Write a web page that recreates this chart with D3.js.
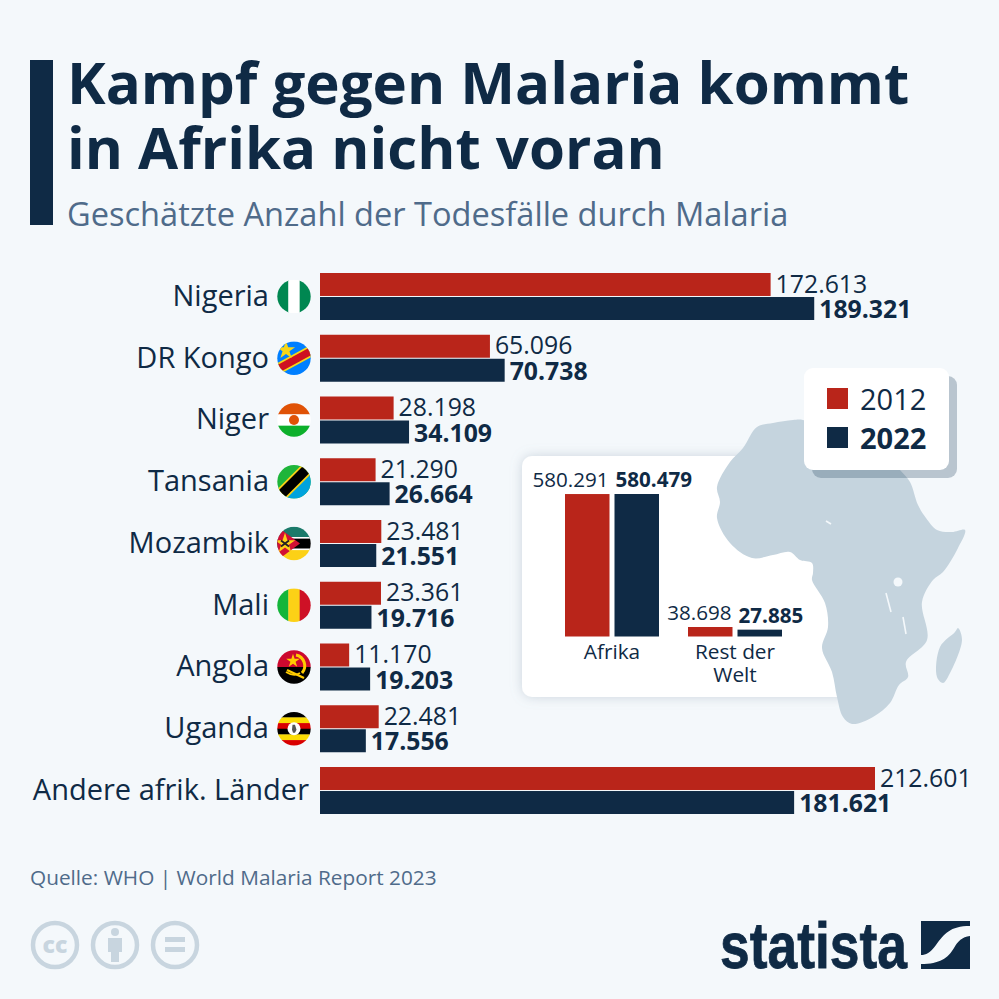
<!DOCTYPE html>
<html>
<head>
<meta charset="utf-8">
<script src="https://cdn.jsdelivr.net/npm/d3@7"></script>
<style>
html,body{margin:0;padding:0;background:#f4f8fb;}
svg{display:block;font-family:"Open Sans",sans-serif;}
</style>
</head>
<body>
<svg id="chart" width="999" height="999"></svg>
<script>
var categories = ["Nigeria","DR Kongo","Niger","Tansania","Mozambik","Mali","Angola","Uganda","Andere afrik. Länder"];
var flagKeys = ["ng","cd","ne","tz","mz","ml","ao","ug",null];
var values2012 = [172613,65096,28198,21290,23481,23361,11170,22481,212601];
var values2022 = [189321,70738,34109,26664,21551,19716,19203,17556,181621];
var years = ["2012","2022"];
var regions = ["Afrika","Rest der Welt"];
var regions2012 = [580291,38698];
var regions2022 = [580479,27885];

var titleLines = ["Kampf gegen Malaria kommt","in Afrika nicht voran"];
var subtitle = "Geschätzte Anzahl der Todesfälle durch Malaria";
var source = "Quelle: WHO | World Malaria Report 2023";

var red = "#b9251a", navy = "#0f2a45", grey = "#4f6b8a", mapCol = "#c5d4de", bg = "#f4f8fb";

var africaOutline = [[757,427],[773,423],[793,420],[803,420],[830,430],[870,440],[900,470],[910,482],[918,505],[926,518],[937,530],[952,532],[965,530],[958,548],[943,572],[933,580],[922,602],[927,640],[906,662],[908,677],[899,685],[890,703],[873,717],[852,724],[843,717],[837,697],[832,672],[822,648],[828,627],[825,603],[812,580],[813,573],[812,563],[800,560],[790,552],[773,555],[752,558],[730,543],[717,518],[720,502],[717,487],[730,462],[743,448]];
var madagascar = [[958,628],[962,640],[948,677],[943,683],[937,677],[940,647],[955,632]];
var lakeLines = [[[886,593],[891,612]],[[903,617],[906,634]],[[826,521],[831,524]]];
var lakeVictoria = [898,582];

var svg = d3.select("#chart");
var fmt = d3.formatLocale({decimal:",",thousands:".",grouping:[3]}).format(",d");

var defs = svg.append("defs");
var soft = defs.append("filter").attr("id","soft").attr("x","-10%").attr("y","-10%").attr("width","120%").attr("height","120%");
soft.append("feDropShadow").attr("dx",0).attr("dy",0).attr("stdDeviation",6).attr("flood-color","#7f93a6").attr("flood-opacity",0.35);

svg.append("rect").attr("width",999).attr("height",999).attr("fill",bg);

// titel
svg.append("rect").attr("x",30).attr("y",60).attr("width",23).attr("height",165).attr("fill",navy);
svg.selectAll("text.title").data(titleLines).enter().append("text")
	.attr("class","title").attr("x",67).attr("y",function(d,i){return 104+i*64.5;})
	.attr("font-size",58.2).attr("font-weight",700).attr("fill",navy).text(function(d){return d;});
svg.append("text").attr("x",67).attr("y",226).attr("font-size",32.6).attr("fill",grey).text(subtitle);

// einsatz panel unter der karte
svg.append("rect").attr("x",522).attr("y",456).attr("width",330).attr("height",241).attr("rx",10)
	.attr("fill","#fff").attr("filter","url(#soft)");

// karte
var mapLine = d3.line().curve(d3.curveCatmullRomClosed.alpha(0.5));
svg.append("path").attr("d",mapLine(africaOutline)).attr("fill",mapCol);
svg.append("path").attr("d",mapLine(madagascar)).attr("fill",mapCol);
svg.selectAll("path.lake").data(lakeLines).enter().append("path").attr("class","lake")
	.attr("d",d3.line()).attr("fill","none").attr("stroke",bg).attr("stroke-width",1.6);
svg.append("circle").attr("cx",lakeVictoria[0]).attr("cy",lakeVictoria[1]).attr("r",4.5).attr("fill",bg);

// haupt diagramm
var x = d3.scaleLinear().domain([0,212601]).range([320,875]);
var y = d3.scaleBand().domain(categories).range([273,814]).paddingInner(0.239);
var yInner = d3.scaleBand().domain(years).range([0,y.bandwidth()]).paddingInner(0.043);

var rows = svg.selectAll("g.row").data(categories).enter().append("g").attr("class","row")
	.attr("transform",function(d){return "translate(0,"+y(d)+")";});

rows.append("text")
	.attr("x",function(d,i){return flagKeys[i] ? 269 : 309;})
	.attr("y",y.bandwidth()/2+9.5).attr("text-anchor","end")
	.attr("font-size",29).attr("fill",navy).text(function(d){return d;});

rows.append("rect").attr("x",x(0)).attr("y",yInner("2012"))
	.attr("width",function(d,i){return x(values2012[i])-x(0);}).attr("height",yInner.bandwidth()).attr("fill",red);
rows.append("rect").attr("x",x(0)).attr("y",yInner("2022"))
	.attr("width",function(d,i){return x(values2022[i])-x(0);}).attr("height",yInner.bandwidth()).attr("fill",navy);

rows.append("text").attr("x",function(d,i){return x(values2012[i])+5;}).attr("y",yInner("2012")+19.5)
	.attr("font-size",24.8).attr("fill",navy).text(function(d,i){return fmt(values2012[i]);});
rows.append("text").attr("x",function(d,i){return x(values2022[i])+5;}).attr("y",yInner("2022")+21)
	.attr("font-size",24.8).attr("font-weight",700).attr("fill",navy).text(function(d,i){return fmt(values2022[i]);});

// flaggen
function stripesH(g,cols){
	cols.forEach(function(c,i){
		g.append("rect").attr("x",-17).attr("y",-17+i*34/cols.length).attr("width",34).attr("height",34/cols.length+0.3).attr("fill",c);
	});
}
function stripesV(g,cols){
	cols.forEach(function(c,i){
		g.append("rect").attr("x",-17+i*34/cols.length).attr("y",-17).attr("width",34/cols.length+0.3).attr("height",34).attr("fill",c);
	});
}
function star(g,cx,cy,r,col){
	g.append("path").attr("transform","translate("+cx+","+cy+")").attr("fill",col)
		.attr("d",d3.symbol().type(d3.symbolStar).size(r*r*1.6)());
}
function diag(g,w,col){
	g.append("line").attr("x1",-24).attr("y1",24).attr("x2",24).attr("y2",-24).attr("stroke",col).attr("stroke-width",w);
}
var flags = {
	ng:function(g){stripesV(g,["#008751","#ffffff","#008751"]);},
	cd:function(g){
		g.append("rect").attr("x",-17).attr("y",-17).attr("width",34).attr("height",34).attr("fill","#007fff");
		g.append("line").attr("x1",-24).attr("y1",15).attr("x2",24).attr("y2",-11).attr("stroke","#f7d618").attr("stroke-width",11);
		g.append("line").attr("x1",-24).attr("y1",15).attr("x2",24).attr("y2",-11).attr("stroke","#ce1021").attr("stroke-width",7.5);
		star(g,-8,-8,8,"#f7d618");
	},
	ne:function(g){
		stripesH(g,["#e05206","#ffffff","#0db02b"]);
		g.append("circle").attr("r",5).attr("fill","#e05206");
	},
	tz:function(g){
		g.append("rect").attr("x",-17).attr("y",-17).attr("width",34).attr("height",34).attr("fill","#1eb53a");
		g.append("path").attr("d","M17,-17L17,17L-17,17Z").attr("fill","#00a3dd");
		diag(g,13,"#fcd116");
		diag(g,9.5,"#000000");
	},
	mz:function(g){
		stripesH(g,["#1b7a6a","#000000","#fcd116"]);
		g.append("rect").attr("x",-17).attr("y",-6.5).attr("width",34).attr("height",1.6).attr("fill","#fff");
		g.append("rect").attr("x",-17).attr("y",5).attr("width",34).attr("height",1.6).attr("fill","#fff");
		g.append("path").attr("d","M-17,-17L6,0L-17,17Z").attr("fill","#d21034");
		star(g,-9,0,9,"#fcd116");
		g.append("path").attr("d","M-13,3L-5,-3M-13,-3L-5,3").attr("stroke","#222").attr("stroke-width",1.8);
	},
	ml:function(g){stripesV(g,["#14b53a","#fcd116","#ce1126"]);},
	ao:function(g){
		stripesH(g,["#cc092f","#000000"]);
		star(g,-1,-6,6,"#ffcb00");
		g.append("path").attr("d","M2,-12A11,11 0 0 1 8,6").attr("fill","none").attr("stroke","#ffcb00").attr("stroke-width",3);
		g.append("path").attr("d","M-7,3L10,11").attr("stroke","#ffcb00").attr("stroke-width",2.4);
		g.append("path").attr("d","M-8,5Q0,10 6,6").attr("fill","none").attr("stroke","#ffcb00").attr("stroke-width",1.8);
	},
	ug:function(g){
		stripesH(g,["#000000","#fcdc04","#d90000","#000000","#fcdc04","#d90000"]);
		g.append("circle").attr("r",6.5).attr("fill","#fff");
		g.append("path").attr("d","M-1.5,-4L1,-4L2.5,1L1,4L-1,4L-2,1Z").attr("fill","#555");
	}
};
categories.forEach(function(c,i){
	if(!flagKeys[i]) return;
	var cy = y(c)+y.bandwidth()/2;
	defs.append("clipPath").attr("id","clip"+i).append("circle").attr("r",16.7);
	var g = svg.append("g").attr("transform","translate(294,"+cy+")").attr("clip-path","url(#clip"+i+")");
	flags[flagKeys[i]](g);
});

// legende
svg.append("rect").attr("x",812).attr("y",376).attr("width",145).attr("height",102).attr("rx",9).attr("fill","#3f5a73").attr("opacity",0.32);
svg.append("rect").attr("x",804).attr("y",368).attr("width",145).attr("height",102).attr("rx",9).attr("fill","#fff");
var legendY = d3.scalePoint().domain(years).range([399,438]);
var legend = svg.selectAll("g.leg").data(years).enter().append("g").attr("class","leg")
	.attr("transform",function(d){return "translate(0,"+legendY(d)+")";});
legend.append("rect").attr("x",827).attr("y",-11).attr("width",21).attr("height",21)
	.attr("fill",function(d,i){return i==0?red:navy;});
legend.append("text").attr("x",860).attr("y",11).attr("font-size",29)
	.attr("font-weight",function(d,i){return i==0?400:700;}).attr("fill",navy).text(function(d){return d;});

// einsatz balken
var insetX = d3.scaleBand().domain(regions).range([565,782]).paddingInner(0.2358);
var insetH = d3.scaleLinear().domain([0,580479]).range([636.5,494]);
var insetInner = d3.scaleBand().domain(years).range([0,insetX.bandwidth()]).paddingInner(0.101);
var inset = svg.selectAll("g.ins").data(regions).enter().append("g").attr("class","ins")
	.attr("transform",function(d){return "translate("+insetX(d)+",0)";});
inset.append("rect").attr("x",insetInner("2012")).attr("width",insetInner.bandwidth())
	.attr("y",function(d,i){return insetH(regions2012[i]);})
	.attr("height",function(d,i){return insetH(0)-insetH(regions2012[i]);}).attr("fill",red);
inset.append("rect").attr("x",insetInner("2022")).attr("width",insetInner.bandwidth())
	.attr("y",function(d,i){return insetH(regions2022[i]);})
	.attr("height",function(d,i){return insetH(0)-insetH(regions2022[i]);}).attr("fill",navy);
inset.append("text").attr("x",insetX.bandwidth()/2-3.5).attr("text-anchor","end")
	.attr("y",function(d,i){return insetH(regions2012[i])-7;})
	.attr("font-size",20.6).attr("fill",navy).text(function(d,i){return fmt(regions2012[i]);});
inset.append("text").attr("x",insetX.bandwidth()/2+3.5)
	.attr("y",function(d,i){return insetH(regions2022[i])-7;})
	.attr("font-size",20.6).attr("font-weight",700).attr("fill",navy).text(function(d,i){return fmt(regions2022[i]);});
inset.each(function(d){
	var words = d=="Afrika" ? ["Afrika"] : ["Rest der","Welt"];
	var g = d3.select(this);
	words.forEach(function(w,j){
		g.append("text").attr("x",insetX.bandwidth()/2).attr("y",659+j*23).attr("text-anchor","middle")
			.attr("font-size",20.8).attr("fill",navy).text(w);
	});
});

// fuss
svg.append("text").attr("x",30).attr("y",885).attr("font-size",20.8).attr("fill",grey).text(source);

var ccCol = "#c8d5df";
var ccX = [55,115,175];
ccX.forEach(function(cx){
	svg.append("circle").attr("cx",cx).attr("cy",945).attr("r",22).attr("fill","none").attr("stroke",ccCol).attr("stroke-width",4.5);
});
svg.append("text").attr("x",55).attr("y",953).attr("text-anchor","middle").attr("font-size",23).attr("font-weight",800).attr("fill",ccCol).text("cc");
svg.append("circle").attr("cx",115).attr("cy",932).attr("r",4).attr("fill",ccCol);
svg.append("path").attr("d","M108,938H122V952H119V962H111V952H108Z").attr("fill",ccCol);
svg.append("rect").attr("x",165).attr("y",937).attr("width",20).attr("height",5).attr("fill",ccCol);
svg.append("rect").attr("x",165).attr("y",947).attr("width",20).attr("height",5).attr("fill",ccCol);

// logo
svg.append("text").attr("x",720).attr("y",968).attr("font-family","'Liberation Sans Narrow','Liberation Sans',sans-serif")
	.attr("font-size",64).attr("font-weight",700).attr("fill",navy).attr("stroke",navy).attr("stroke-width",0.8)
	.attr("textLength",187).attr("lengthAdjust","spacingAndGlyphs").text("statista");
svg.append("path").attr("fill",navy)
	.attr("d","M921,921H970V926C950,926 944,934 936,945C930,953 926,955 921,955Z");
svg.append("path").attr("fill",navy)
	.attr("d","M970,936V969H921V964C940,964 948,958 954,948C958,941 962,937 970,936Z");
</script>
</body>
</html>
